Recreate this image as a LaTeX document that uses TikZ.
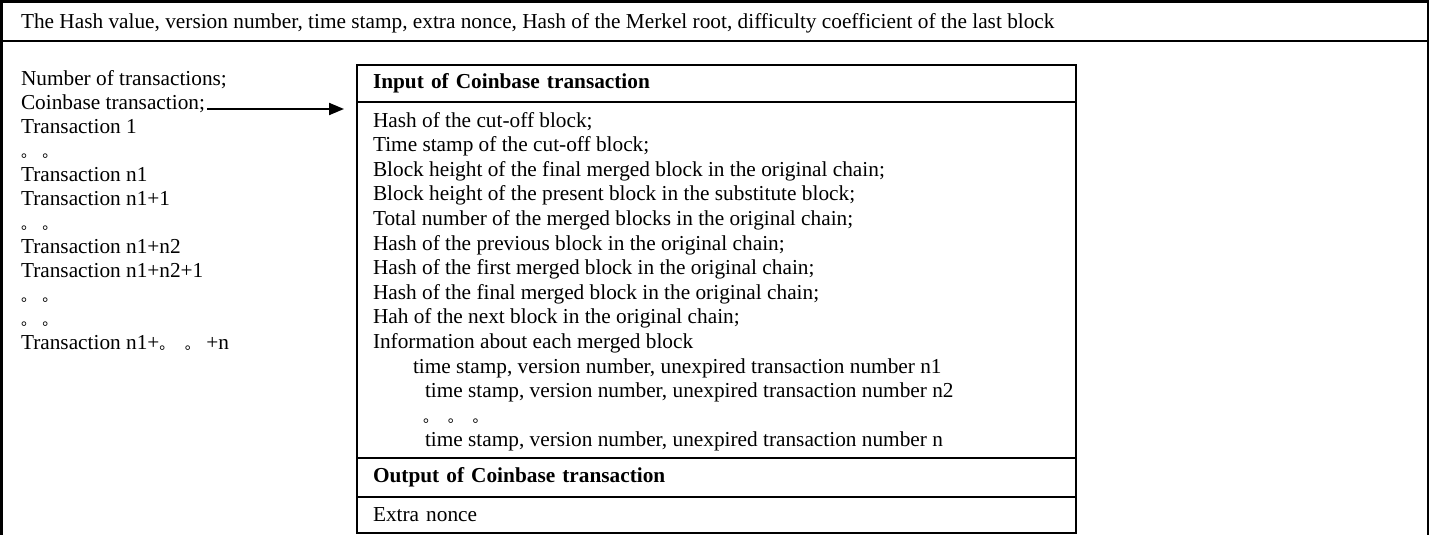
\documentclass[tikz,border=0pt]{standalone}
\usepackage{fontspec}
\setmainfont{Liberation Serif}
\newfontfamily\cjk{Noto Sans CJK SC}
\usetikzlibrary{positioning,arrows.meta}
\newcommand{\jd}{\makebox[1em][l]{\cjk\fontsize{15}{15}\selectfont 。}}

\begin{document}
\begin{tikzpicture}[x=1pt,y=-1pt,
                      every node/.style={inner sep=0pt,outer sep=0pt,
                        font=\fontsize{21.3}{25}\selectfont},
                      frame/.style={line width=2.3pt},
                      cell/.style={draw,frame,minimum width=719pt,anchor=north west},
                      line/.style={anchor=base west}]

  \useasboundingbox (0,0) rectangle (1430,535);

  \draw[frame] (1.5,535) -- (1.5,1.5) -- (1428,1.5) -- (1428,535);
  \draw[frame] (1.5,41) -- (1428,41);
  \node[line] (head) at (21,29) {The Hash value, version number, time stamp, extra nonce, Hash of the Merkel root, difficulty coefficient of the last block};

  \foreach \txt [count=\i] in {Number of transactions;,Coinbase transaction;,Transaction 1,\jd\jd,
      Transaction n1,Transaction n1+1,\jd\jd,Transaction n1+n2,Transaction n1+n2+1,\jd\jd,\jd\jd,
      Transaction n1+\jd\hspace{0.2em}\jd+n}
    \node[line] (L\i) at (21,61+24*\i) {\txt};

  \node[cell,minimum height=37pt,text width=687pt,inner xsep=16pt,align=left] (inhead) at (357,65)
        {\bfseries Input of Coinbase transaction};
  \node[cell,below=0pt of inhead,minimum height=356pt] (inbody) {};
  \node[cell,below=0pt of inbody,minimum height=39pt,text width=687pt,inner xsep=16pt,align=left] (outhead)
        {\bfseries Output of Coinbase transaction};
  \node[cell,below=0pt of outhead,minimum height=36pt,text width=687pt,inner xsep=16pt,align=left] (outbody)
        {Extra nonce};

  \foreach \ind/\txt [count=\i] in {0/Hash of the cut-off block;,0/Time stamp of the cut-off block;,
      0/Block height of the final merged block in the original chain;,
      0/Block height of the present block in the substitute block;,
      0/Total number of the merged blocks in the original chain;,
      0/Hash of the previous block in the original chain;,
      0/Hash of the first merged block in the original chain;,
      0/Hash of the final merged block in the original chain;,
      0/Hah of the next block in the original chain;,
      0/Information about each merged block,
      40/{time stamp, version number, unexpired transaction number n1},
      52/{time stamp, version number, unexpired transaction number n2},
      50/{\jd\,\jd\,\jd},
      52/{time stamp, version number, unexpired transaction number n}}
    \node[line] (R\i) at ([xshift=16+\ind,yshift=-(0.4+24.6*\i)]inbody.north west) {\txt};

  \draw[line width=2pt,-{Triangle[length=15pt,width=12pt]},shorten >=13pt,shorten <=2pt]
        (L2.base east) -- (L2.base east -| inbody.west);
\end{tikzpicture}
\end{document}
